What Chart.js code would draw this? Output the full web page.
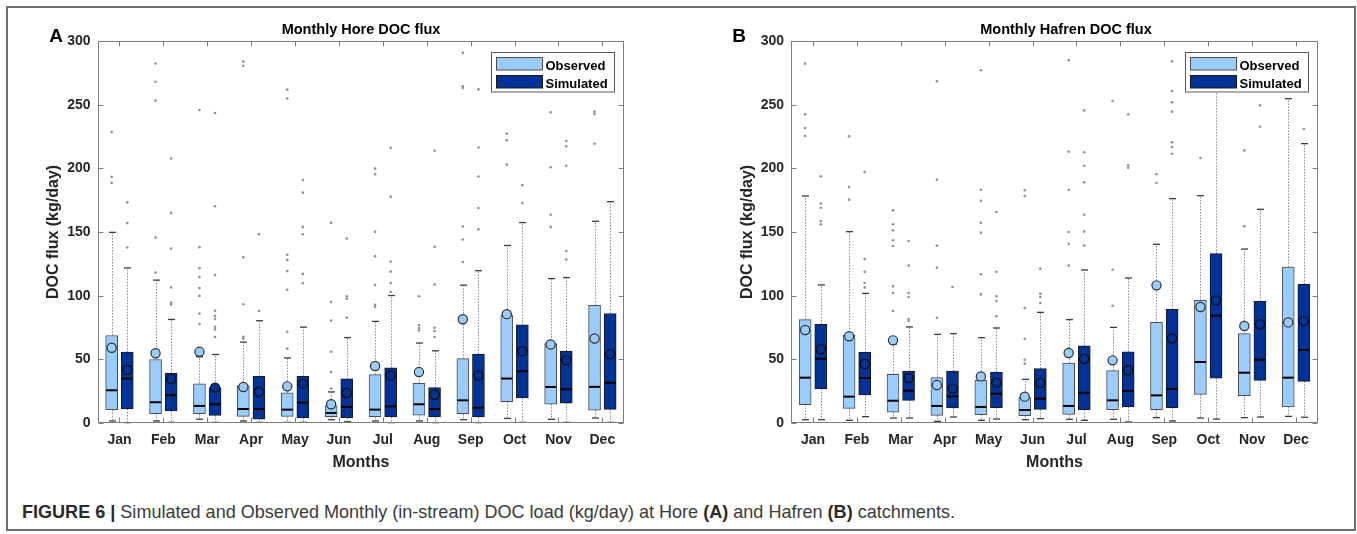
<!DOCTYPE html>
<html>
<head>
<meta charset="utf-8">
<script src="https://cdn.jsdelivr.net/npm/chart.js@4.4.0/dist/chart.umd.min.js"></script>
<style>
html,body{margin:0;padding:0;background:#fff;}
body{width:1357px;height:534px;position:relative;overflow:hidden;font-family:"Liberation Sans",Arial,sans-serif;}
#frame{position:absolute;left:6px;top:6px;width:1350px;height:525px;border:2px solid #6e6e6e;box-sizing:border-box;}
.pane{position:absolute;top:0;}
#caption{position:absolute;left:22px;top:502px;font-size:19px;line-height:19px;color:#3a3a3a;white-space:nowrap;transform-origin:0 0;}
#caption b{color:#2a2a2a;}
</style>
</head>
<body>
<div id="frame"></div>
<canvas id="cA" class="pane" style="left:0px" width="680" height="480"></canvas>
<canvas id="cB" class="pane" style="left:680px" width="677" height="480"></canvas>
<div id="caption"><b>FIGURE 6 |</b> Simulated and Observed Monthly (in-stream) DOC load (kg/day) at Hore <b>(A)</b> and Hafren <b>(B)</b> catchments.</div>
<script>
// ---------- categories / ticks ----------
const months = ['Jan','Feb','Mar','Apr','May','Jun','Jul','Aug','Sep','Oct','Nov','Dec'];
const yTickValues = [0,50,100,150,200,250,300];

// ---------- Panel A : Hore (Observed) ----------
const horeObsQ1   = [10.5, 7.3, 7.3, 5.2, 5.2, 5.0, 5.0, 6.2, 7.3, 16.8, 14.8, 10.0];
const horeObsMed  = [25.7, 16.3, 13.4, 11.0, 10.5, 7.9, 10.5, 14.7, 17.8, 34.9, 28.3, 28.4];
const horeObsQ3   = [68.7, 49.9, 30.8, 29.4, 23.6, 13.6, 38.0, 31.1, 50.5, 84.6, 62.3, 92.5];
const horeObsLo   = [1.6, 1.6, 3.0, 1.6, 0.5, 2.6, 1.6, 1.6, 2.6, 3.6, 2.9, 3.9];
const horeObsHi   = [149.7, 112.2, 52.0, 63.5, 51.1, 24.4, 79.8, 62.8, 108.2, 139.4, 113.4, 158.4];
const horeObsMean = [59.1, 54.8, 55.9, 28.3, 28.8, 14.7, 44.8, 40.0, 81.5, 85.5, 61.7, 66.4];
const horeObsOut  = [
  [228.5, 193.4, 188.6],
  [282.3, 268, 253.2, 145.6, 118.2],
  [245.8, 138.1, 121.5, 114.6, 106, 99.8, 85.9, 77.8],
  [283.8, 280.6, 130.2, 93.3, 67.6, 66.2],
  [261.8, 254.8, 132.1, 128.1, 119.3, 104.6, 71.7, 58.4],
  [157.2, 95, 80.4, 56, 40, 27],
  [199.8, 195.4, 150.2, 131, 108.4, 92.8, 91.2],
  [99.5, 77, 74.5, 72.6],
  [290.7, 264.4, 263, 154.3, 144.1, 126.4],
  [227.4, 222, 202.9],
  [244.1, 200.8, 163.5, 154],
  [244.5, 242.7, 219.3]
];
// ---------- Panel A : Hore (Simulated) ----------
const horeSimQ1   = [11.0, 9.4, 6.0, 3.1, 4.2, 4.2, 4.7, 4.7, 4.7, 19.7, 15.5, 10.7];
const horeSimMed  = [34.9, 21.8, 14.7, 11.0, 16.0, 12.6, 13.1, 11.0, 12.0, 40.6, 26.5, 31.6];
const horeSimQ3   = [55.6, 39.3, 27.8, 36.7, 36.7, 34.6, 43.4, 27.8, 54.1, 77.1, 56.5, 86.0];
const horeSimLo   = [0.3, 0.5, 0.5, 0.5, 0.5, 1.0, 0.3, 0.3, 0.3, 0.5, 0.5, 0.5];
const horeSimHi   = [121.8, 81.3, 53.8, 80.3, 75.3, 67.1, 100.1, 56.7, 119.6, 157.4, 114.2, 173.8];
const horeSimMean = [41.8, 34.6, 27.8, 24.4, 30.9, 23.6, 37.2, 22.2, 37.3, 56.4, 49.2, 54.1];
const horeSimOut  = [
  [173.3, 157, 137.8],
  [207.7, 165, 137, 106.5, 94.5, 93],
  [243.5, 170.2, 116.2, 88.2, 84.2, 81.8, 75.5, 73.5, 67.5],
  [148.2, 88],
  [190.8, 180.9, 154, 148.2, 117.1, 109.8],
  [144.8, 99.6, 97.5, 82.8],
  [216.2, 177.6, 126.8, 118.9, 110, 102.9],
  [213.8, 138.3, 108.8, 74.8, 72.2, 67.5],
  [262, 216.4, 193.6, 168.8, 152.1],
  [186.8, 172.7],
  [221.5, 217.3, 202, 135.1, 128.4],
  []
];

// ---------- Panel B : Hafren (Observed) ----------
const hafObsQ1   = [14.4, 11.5, 8.6, 6.0, 6.5, 5.8, 6.8, 10.5, 10.5, 22.5, 21.5, 12.6];
const hafObsMed  = [35.6, 20.7, 17.5, 13.4, 12.6, 10.2, 13.4, 17.8, 21.7, 47.9, 39.5, 35.6];
const hafObsQ3   = [81.2, 68.8, 38.2, 35.6, 33.5, 19.9, 47.1, 41.1, 79.0, 96.3, 70.2, 122.5];
const hafObsLo   = [2.6, 2.1, 3.9, 1.3, 2.1, 2.6, 2.9, 2.9, 4.2, 3.9, 4.2, 5.2];
const hafObsHi   = [178.3, 150.3, 62.0, 69.6, 67.0, 34.3, 81.2, 75.1, 140.3, 178.5, 136.6, 254.7];
const hafObsMean = [73.0, 68.1, 64.9, 29.8, 36.6, 20.7, 55.0, 49.2, 108.1, 91.1, 76.2, 79.0];
const hafObsOut  = [
  [282.2, 242.4, 231.7, 225.4],
  [225.1, 185.3, 175.4],
  [167, 156, 151.3, 143.5, 139, 107.3, 102.1, 88],
  [268.3, 191.1, 139.3, 122, 82.7],
  [277, 183.2, 174.6, 157.3, 149.5, 116.8, 101],
  [182.7, 178.3, 90.3, 66.2, 49.7, 46.6],
  [284.8, 213.1, 183.2, 150, 140.8, 123.6],
  [252.9, 120.4, 92.1],
  [195.3, 188.5],
  [208.1],
  [214.1, 154.5],
  []
];
// ---------- Panel B : Hafren (Simulated) ----------
const hafSimQ1   = [26.7, 22.0, 17.8, 11.8, 12.0, 10.7, 10.5, 12.6, 12.0, 35.3, 33.5, 32.7];
const hafSimMed  = [50.5, 35.3, 25.4, 20.9, 23.0, 19.1, 23.8, 25.1, 26.7, 84.3, 49.7, 57.3];
const hafSimQ3   = [77.5, 55.5, 40.8, 40.8, 40.0, 42.7, 60.7, 55.8, 89.3, 133.0, 95.5, 108.9];
const hafSimLo   = [2.6, 5.0, 3.9, 4.7, 3.1, 3.4, 2.1, 0.8, 1.6, 3.1, 4.7, 4.5];
const hafSimHi   = [108.4, 101.8, 75.4, 70.2, 74.6, 86.9, 120.2, 113.9, 176.2, 272.0, 167.8, 219.4];
const hafSimMean = [57.9, 46.3, 35.3, 27.0, 31.7, 31.4, 50.5, 41.4, 66.5, 96.3, 77.5, 80.1];
const hafSimOut  = [
  [193.7, 172.3, 169.1, 158.6, 156],
  [197.1, 128.8, 118.8, 110, 106.5],
  [142.9, 123.6, 102.1, 99, 81.7, 80.1],
  [106.8],
  [165.7, 118.8, 99.5, 95.8, 83.8],
  [121.2, 101.6, 99, 94.2],
  [245.5, 212.6, 202, 189, 163.6, 150.3, 139.3],
  [242.4, 202.4, 200.5],
  [284, 260.7, 251.8, 244.5, 220.4, 216.8, 211.5],
  [],
  [249.5, 232.7],
  [230.9]
];

// ---------- styles ----------
const FONT = '"Liberation Sans", Arial, sans-serif';
const OBS_FILL = '#99CCFF', SIM_FILL = '#003399';
const TXT = '#262626';

const panels = [
  {canvas:'cA', W:680, H:480, plotLeft:97.5, plotRight:624.3, plotTop:41, plotBottom:423,
   title:'Monthly Hore DOC flux', titleX:361, letter:'A', letterX:56, yTitleX:58,
   obs:{q1:horeObsQ1, med:horeObsMed, q3:horeObsQ3, lo:horeObsLo, hi:horeObsHi, mean:horeObsMean, out:horeObsOut},
   sim:{q1:horeSimQ1, med:horeSimMed, q3:horeSimQ3, lo:horeSimLo, hi:horeSimHi, mean:horeSimMean, out:horeSimOut}},
  {canvas:'cB', W:677, H:480, plotLeft:111, plotRight:638, plotTop:41, plotBottom:423,
   title:'Monthly Hafren DOC flux', titleX:386, letter:'B', letterX:59, yTitleX:72,
   obs:{q1:hafObsQ1, med:hafObsMed, q3:hafObsQ3, lo:hafObsLo, hi:hafObsHi, mean:hafObsMean, out:hafObsOut},
   sim:{q1:hafSimQ1, med:hafSimMed, q3:hafSimQ3, lo:hafSimLo, hi:hafSimHi, mean:hafSimMean, out:hafSimOut}}
];

function line(ctx,x1,y1,x2,y2){ctx.beginPath();ctx.moveTo(x1,y1);ctx.lineTo(x2,y2);ctx.stroke();}

function makePlugin(p){
  return {
    id:'boxparts_'+p.canvas,
    beforeDatasetsDraw(chart){
      const ctx = chart.ctx, ys = chart.scales.y;
      [0,1].forEach(d=>{
        const st = d===0 ? p.obs : p.sim;
        chart.getDatasetMeta(d).data.forEach((el,i)=>{
          const x = Math.round(el.x)+0.5;
          ctx.save();
          ctx.strokeStyle = '#8c8c8c'; ctx.lineWidth = 1; ctx.setLineDash([1.5,1.5]);
          line(ctx, x, ys.getPixelForValue(st.q3[i]), x, ys.getPixelForValue(st.hi[i]));
          line(ctx, x, ys.getPixelForValue(st.q1[i]), x, ys.getPixelForValue(st.lo[i]));
          ctx.setLineDash([]); ctx.strokeStyle = '#3c3c3c'; ctx.lineWidth = 1.3;
          const yh = ys.getPixelForValue(st.hi[i]), yl = ys.getPixelForValue(st.lo[i]);
          line(ctx, x-3.5, yh, x+3.5, yh);
          line(ctx, x-3.5, yl, x+3.5, yl);
          ctx.restore();
        });
      });
    },
    afterDatasetDraw(chart,args){
      if(args.index>1) return;
      const ctx = chart.ctx, ys = chart.scales.y;
      const st = args.index===0 ? p.obs : p.sim;
      ctx.save(); ctx.strokeStyle = '#000'; ctx.lineWidth = 2;
      args.meta.data.forEach((el,i)=>{
        const y = ys.getPixelForValue(st.med[i]);
        line(ctx, el.x - el.width/2 + 0.5, y, el.x + el.width/2 - 0.5, y);
      });
      ctx.restore();
    },
    afterDraw(chart){
      const ctx = chart.ctx, a = chart.chartArea, xs = chart.scales.x, ys = chart.scales.y;
      ctx.save();
      ctx.strokeStyle = '#7d7d7d'; ctx.lineWidth = 1;
      const L = Math.round(a.left)+0.5, R = Math.round(a.right)-0.5, T = Math.round(a.top)+0.5, B = Math.round(a.bottom)-0.5;
      ctx.strokeRect(L, T, R-L, B-T);
      months.forEach((m,i)=>{
        const x = Math.round(xs.getPixelForValue(i))+0.5;
        line(ctx, x, T, x, T+5); line(ctx, x, B, x, B-5);
      });
      yTickValues.forEach(v=>{
        const y = Math.round(ys.getPixelForValue(v))+0.5;
        line(ctx, L, y, L+5, y); line(ctx, R, y, R-5, y);
      });
      ctx.fillStyle = '#000'; ctx.textAlign = 'center'; ctx.textBaseline = 'alphabetic';
      ctx.font = 'bold 14.5px '+FONT;
      ctx.fillText(p.title, p.titleX, 33.5);
      ctx.font = 'bold 19px '+FONT;
      ctx.fillText(p.letter, p.letterX, 41.5);
      ctx.fillStyle = TXT; ctx.font = 'bold 16px '+FONT;
      ctx.fillText('Months', (a.left+a.right)/2, 467);
      ctx.save();
      ctx.translate(p.yTitleX, (a.top+a.bottom)/2);
      ctx.rotate(-Math.PI/2);
      ctx.fillText('DOC flux (kg/day)', 0, 0);
      ctx.restore();
      // legend
      const lw = 123, lh = 39.5;
      const lx = Math.round(a.right - 10 - lw)+0.5, ly = Math.round(a.top + 11)+0.5;
      ctx.fillStyle = '#fff'; ctx.fillRect(lx, ly, lw, lh);
      ctx.strokeStyle = '#5a5a5a'; ctx.lineWidth = 1; ctx.strokeRect(lx, ly, lw, lh);
      const items = [['Observed', OBS_FILL, '#4d4d4d'], ['Simulated', SIM_FILL, '#1a1a1a']];
      items.forEach((it,k)=>{
        const py = ly + 5 + k*18;
        ctx.fillStyle = it[1]; ctx.fillRect(lx+5, py, 46, 12.5);
        ctx.strokeStyle = it[2]; ctx.strokeRect(lx+5, py, 46, 12.5);
        ctx.fillStyle = '#000'; ctx.textAlign = 'left'; ctx.font = 'bold 13px '+FONT;
        ctx.fillText(it[0], lx+54, py+12);
      });
      ctx.restore();
    }
  };
}

function makeChart(p){
  const unitPx = (p.plotRight - p.plotLeft) / months.length;
  const off = 7.8 / unitPx;            // side offset of the two boxes, in category units
  const boxPts = (st,dx)=>st.q1.map((q,i)=>({x:i+dx, y:[q, st.q3[i]]}));
  const outPts = (arrs,dx)=>arrs.flatMap((vals,i)=>vals.map(v=>({x:i+dx, y:v})));
  const meanPts = (arr,dx)=>arr.map((v,i)=>({x:i+dx, y:v}));
  const tickFont = {family:FONT, size:14, weight:'bold'};
  new Chart(document.getElementById(p.canvas), {
    type:'bar',
    data:{
      datasets:[
        {label:'Observed', data:boxPts(p.obs,-off), backgroundColor:OBS_FILL, borderColor:'#4d4d4d',
         borderWidth:1, borderSkipped:false, barThickness:12, grouped:false, order:3},
        {label:'Simulated', data:boxPts(p.sim,off), backgroundColor:SIM_FILL, borderColor:'#1a1a1a',
         borderWidth:1, borderSkipped:false, barThickness:12, grouped:false, order:3},
        {type:'scatter', data:outPts(p.obs.out,-off), pointRadius:1.3, backgroundColor:'#8f8f8f', borderWidth:0, order:2},
        {type:'scatter', data:outPts(p.sim.out,off), pointRadius:1.3, backgroundColor:'#8f8f8f', borderWidth:0, order:2},
        {type:'scatter', data:meanPts(p.obs.mean,-off), pointRadius:4.6, backgroundColor:OBS_FILL, borderColor:'#2e2e2e', borderWidth:1.2, order:1},
        {type:'scatter', data:meanPts(p.sim.mean,off), pointRadius:4.6, backgroundColor:SIM_FILL, borderColor:'#0a0a0a', borderWidth:1.2, order:1}
      ]
    },
    options:{
      responsive:false, animation:false, devicePixelRatio:1, events:[],
      layout:{padding:{left:0, top:p.plotTop, right:p.W - p.plotRight, bottom:0}},
      plugins:{legend:{display:false}, title:{display:false}, tooltip:{enabled:false}},
      scales:{
        x:{type:'linear', min:-0.5, max:11.5, offset:false, grid:{display:false, drawTicks:false}, border:{display:false},
           afterBuildTicks:s=>{ s.ticks = months.map((m,i)=>({value:i})); },
           ticks:{font:tickFont, color:TXT, padding:9, maxRotation:0, autoSkip:false,
                  callback:(v)=> months[v] !== undefined ? months[v] : ''},
           afterFit:s=>{s.height = p.H - p.plotBottom;}},
        y:{type:'linear', min:0, max:300, grid:{display:false, drawTicks:false}, border:{display:false},
           ticks:{stepSize:50, font:tickFont, color:TXT, padding:7},
           afterFit:s=>{s.width = p.plotLeft;}}
      }
    },
    plugins:[makePlugin(p)]
  });
}
panels.forEach(makeChart);

const cap = document.getElementById('caption');
const w = cap.getBoundingClientRect().width;
cap.style.transform = 'scaleX(' + (933 / w) + ')';
</script>
</body>
</html>
